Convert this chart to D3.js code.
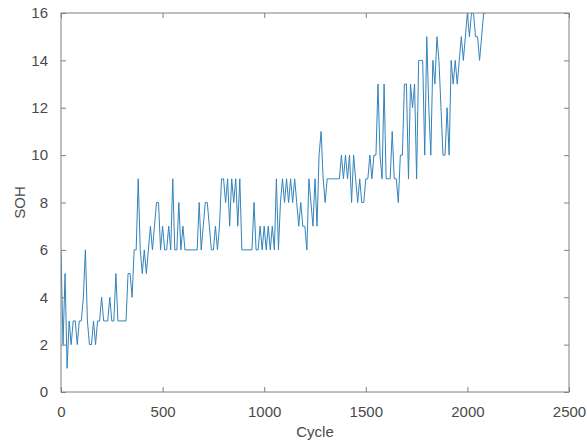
<!DOCTYPE html>
<html lang="en">
<head>
    <meta charset="utf-8">
    <title>SOH vs Cycle</title>
    <script src="https://d3js.org/d3.v7.min.js"></script>
    <style>
        body { margin: 0; background: #fff; }
        text { font-family: "Liberation Sans", Arial, sans-serif; }
    </style>
</head>
<body>
<script type="text/javascript">
    // data: SOH read every 10 cycles
    var cycleStep = 10;
    var sohValues = [
        6, 2, 5, 1, 3, 2, 3, 3, 2, 3,
        3, 4, 6, 3, 2, 2, 3, 2, 3, 3,
        4, 3, 3, 3, 4, 3, 3, 5, 3, 3,
        3, 3, 3, 5, 5, 4, 6, 6, 9, 6,
        5, 6, 5, 6, 7, 6, 7, 8, 8, 6,
        7, 6, 6, 7, 6, 9, 6, 6, 8, 6,
        7, 6, 6, 6, 6, 6, 6, 6, 8, 6,
        7, 8, 8, 7, 6, 6, 7, 6, 7, 9,
        9, 8, 9, 7, 9, 8, 9, 7, 9, 6,
        6, 6, 6, 6, 6, 8, 6, 6, 7, 6,
        7, 6, 7, 6, 7, 6, 9, 6, 8, 9,
        8, 9, 8, 9, 8, 9, 8, 7, 8, 7,
        7, 6, 9, 8, 7, 9, 7, 10, 11, 9,
        8, 9, 9, 9, 9, 9, 9, 9, 10, 9,
        10, 9, 10, 8, 10, 9, 8, 9, 8, 8,
        9, 9, 10, 9, 10, 10, 13, 10, 9, 13,
        9, 9, 9, 11, 9, 9, 8, 10, 10, 13,
        13, 9, 13, 12, 13, 9, 14, 14, 14, 10,
        15, 12, 10, 14, 13, 15, 14, 12, 10, 10,
        12, 10, 14, 13, 14, 13, 14, 15, 14, 15,
        16, 15, 16, 16, 15, 15, 14, 15, 16, 16
    ];
    var xTicks = [0, 500, 1000, 1500, 2000, 2500];
    var yTicks = [0, 2, 4, 6, 8, 10, 12, 14, 16];
    var xLabel = "Cycle", yLabel = "SOH";

    var width = 587, height = 442;
    var margin = {top: 13, right: 18, bottom: 50, left: 61};
    var iw = width - margin.left - margin.right,
        ih = height - margin.top - margin.bottom;

    var data = sohValues.map(function(v, i) { return {cycle: i * cycleStep, soh: v}; });

    var svg = d3.select("body").append("svg")
        .attr("width", width)
        .attr("height", height);

    var x = d3.scaleLinear().domain([0, 2500]).range([0, iw]);
    var y = d3.scaleLinear().domain([0, 16]).range([ih, 0]);

    var g = svg.append("g")
        .attr("transform", "translate(" + margin.left + "," + margin.top + ")");

    g.append("clipPath").attr("id", "clip")
        .append("rect").attr("width", iw).attr("height", ih);

    //line
    var line = d3.line()
        .x(function(d) { return x(d.cycle); })
        .y(function(d) { return y(d.soh); });

    g.append("path")
        .datum(data)
        .attr("clip-path", "url(#clip)")
        .attr("fill", "none")
        .attr("stroke", "#3383bb")
        .attr("stroke-width", 1)
        .attr("stroke-linejoin", "round")
        .attr("d", line);

    //axes, matlab style box with inward ticks
    var axisColor = "#808080", labelColor = "#4a4a4a";
    var fmt = d3.format("d");
    function styleAxis(sel, showText) {
        sel.select(".domain").remove();
        sel.selectAll(".tick line").attr("stroke", axisColor);
        sel.selectAll(".tick text")
            .attr("fill", labelColor)
            .attr("font-size", "15px")
            .style("display", showText ? null : "none");
    }

    g.append("g").attr("transform", "translate(0," + ih + ")")
        .call(d3.axisBottom(x).tickValues(xTicks).tickFormat(fmt).tickSizeInner(-5).tickPadding(14))
        .call(styleAxis, true);
    g.append("g")
        .call(d3.axisTop(x).tickValues(xTicks).tickSizeInner(-5))
        .call(styleAxis, false);
    g.append("g")
        .call(d3.axisLeft(y).tickValues(yTicks).tickFormat(fmt).tickSizeInner(-5).tickPadding(13))
        .call(styleAxis, true);
    g.append("g").attr("transform", "translate(" + iw + ",0)")
        .call(d3.axisRight(y).tickValues(yTicks).tickSizeInner(-5))
        .call(styleAxis, false);

    g.append("rect")
        .attr("width", iw).attr("height", ih)
        .attr("fill", "none")
        .attr("stroke", axisColor)
        .attr("stroke-width", 1);

    svg.append("text")
        .attr("x", margin.left + iw / 2)
        .attr("y", 437)
        .attr("text-anchor", "middle")
        .attr("font-size", "15px")
        .attr("fill", labelColor)
        .text(xLabel);

    svg.append("text")
        .attr("transform", "translate(25," + (margin.top + ih / 2) + ") rotate(-90)")
        .attr("text-anchor", "middle")
        .attr("font-size", "15px")
        .attr("fill", labelColor)
        .text(yLabel);
</script>
</body>
</html>
